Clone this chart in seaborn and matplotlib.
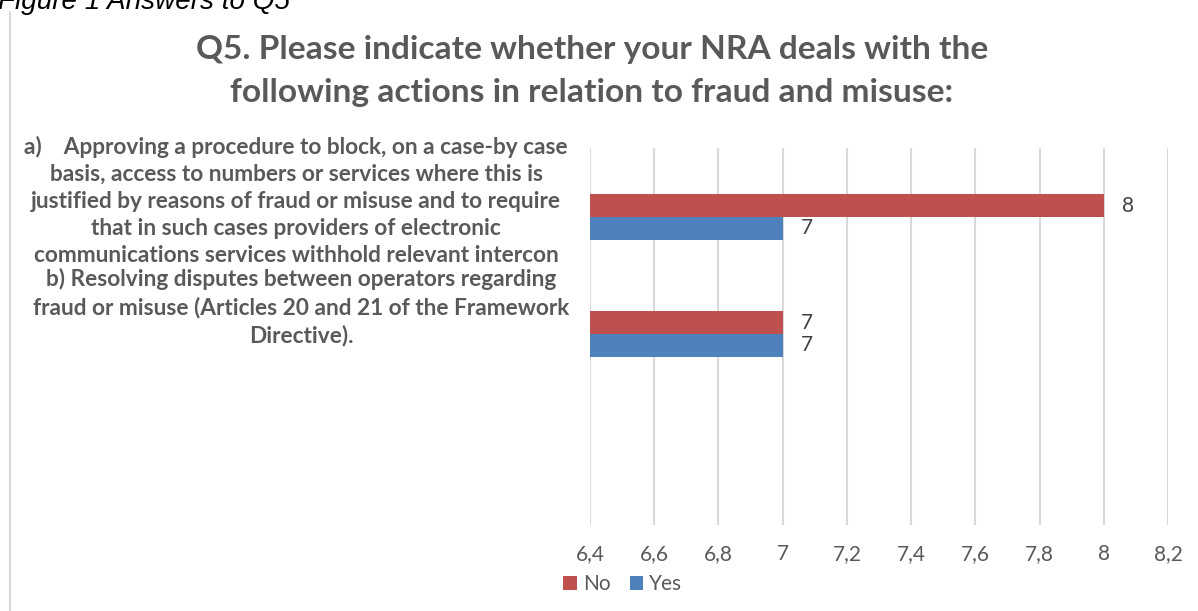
import matplotlib
matplotlib.use("Agg")
import matplotlib.pyplot as plt
import seaborn as sns
import pandas as pd
from matplotlib.lines import Line2D
from matplotlib.patches import Patch

# ---- data ----
categories = [
    "a)    Approving a procedure to block, on a case-by case\nbasis, access to numbers or services where this is\njustified by reasons of fraud or misuse and to require\nthat in such cases providers of electronic\ncommunications services withhold relevant intercon",
    "b) Resolving disputes between operators regarding\nfraud or misuse (Articles 20 and 21 of the Framework\nDirective).",
]
series = ["No", "Yes"]
no_values = [8, 7]
yes_values = [7, 7]
x_ticks = [6.4, 6.6, 6.8, 7.0, 7.2, 7.4, 7.6, 7.8, 8.0, 8.2]
x_tick_labels = ["6,4", "6,6", "6,8", "7", "7,2", "7,4", "7,6", "7,8", "8", "8,2"]
title = "Q5. Please indicate whether your NRA deals with the\nfollowing actions in relation to fraud and misuse:"
caption = "Figure 1 Answers to Q5"

colors = {"No": "#C0504D", "Yes": "#4F81BD"}

df = pd.DataFrame({
    "category": [c for c in ["a", "b"] for _ in series],
    "series": series * 2,
    "value": [no_values[0], yes_values[0], no_values[1], yes_values[1]],
})

sns.set_theme(style="white")
plt.rcParams["font.family"] = ["Lato", "DejaVu Sans"]

W, H = 1198, 611
fig = plt.figure(figsize=(W / 100, H / 100), dpi=100)

def fx(px):
    return px / W

def fy(py):
    return 1 - py / H

# axes: plot area x 590..1168, y 148..525
ax = fig.add_axes([fx(590), fy(525), fx(1168) - fx(590), fy(148) - fy(525)])

sns.barplot(data=df, y="category", x="value", hue="series", hue_order=series,
            palette=colors, orient="h", width=0.385, ax=ax, legend=False,
            saturation=1, linewidth=0)

# category spacing 117 px; category a center at 217 px
sp = 117.0
ax.set_ylim((525 - 217) / sp, (148 - 217) / sp)
ax.set_xlim(6.4, 8.2)
ax.set_xticks(x_ticks)
ax.set_xticklabels(x_tick_labels, color="#595959", fontsize=15)
ax.tick_params(axis="x", length=0, pad=14)
ax.set_yticks([])
ax.set_xlabel("")
ax.set_ylabel("")
for s in ax.spines.values():
    s.set_visible(False)
ax.grid(axis="x", color="#D9D9D9", linewidth=1.5)
ax.set_axisbelow(True)

for cont in ax.containers:
    ax.bar_label(cont, fmt="%g", padding=13, color="#404040", fontsize=15)

fig.canvas.draw()
renderer = fig.canvas.get_renderer()

def fit_width(t, target_px):
    bb = t.get_window_extent(renderer)
    t.set_fontsize(t.get_fontsize() * target_px / bb.width)

# title
t = fig.text(fx(592), fy(71), title, ha="center", va="center", fontsize=22,
             fontweight="bold", color="#595959", linespacing=1.55)
fit_width(t, 790)

# category labels
lab_a = fig.text(fx(296), fy(201), categories[0], ha="center", va="center",
                 fontsize=12, fontweight="bold", color="#595959", linespacing=1.35)
fit_width(lab_a, 540)
lab_b = fig.text(fx(301), fy(307), categories[1], ha="center", va="center",
                 fontsize=lab_a.get_fontsize(), fontweight="bold", color="#595959",
                 linespacing=1.35)

# caption (cut at top, as in the reference)
cap = fig.text(fx(-2), fy(2), caption, ha="left", va="center", fontsize=18,
               style="italic", color="#000000", family=["Liberation Sans", "DejaVu Sans"])
fit_width(cap, 292)

# left border
fig.add_artist(Line2D([fx(10), fx(10)], [fy(12), 0], color="#D9D9D9", linewidth=1.5))

# legend
handles = [Patch(facecolor=colors[s], edgecolor="none", label=s) for s in series]
fig.legend(handles=handles, loc="center", bbox_to_anchor=(fx(623), fy(584)), ncol=2,
           frameon=False, fontsize=15, handlelength=0.65, handleheight=0.65,
           handletextpad=0.3, columnspacing=0.9, labelcolor="#595959")

fig.savefig("out.png", dpi=100, facecolor="white")
